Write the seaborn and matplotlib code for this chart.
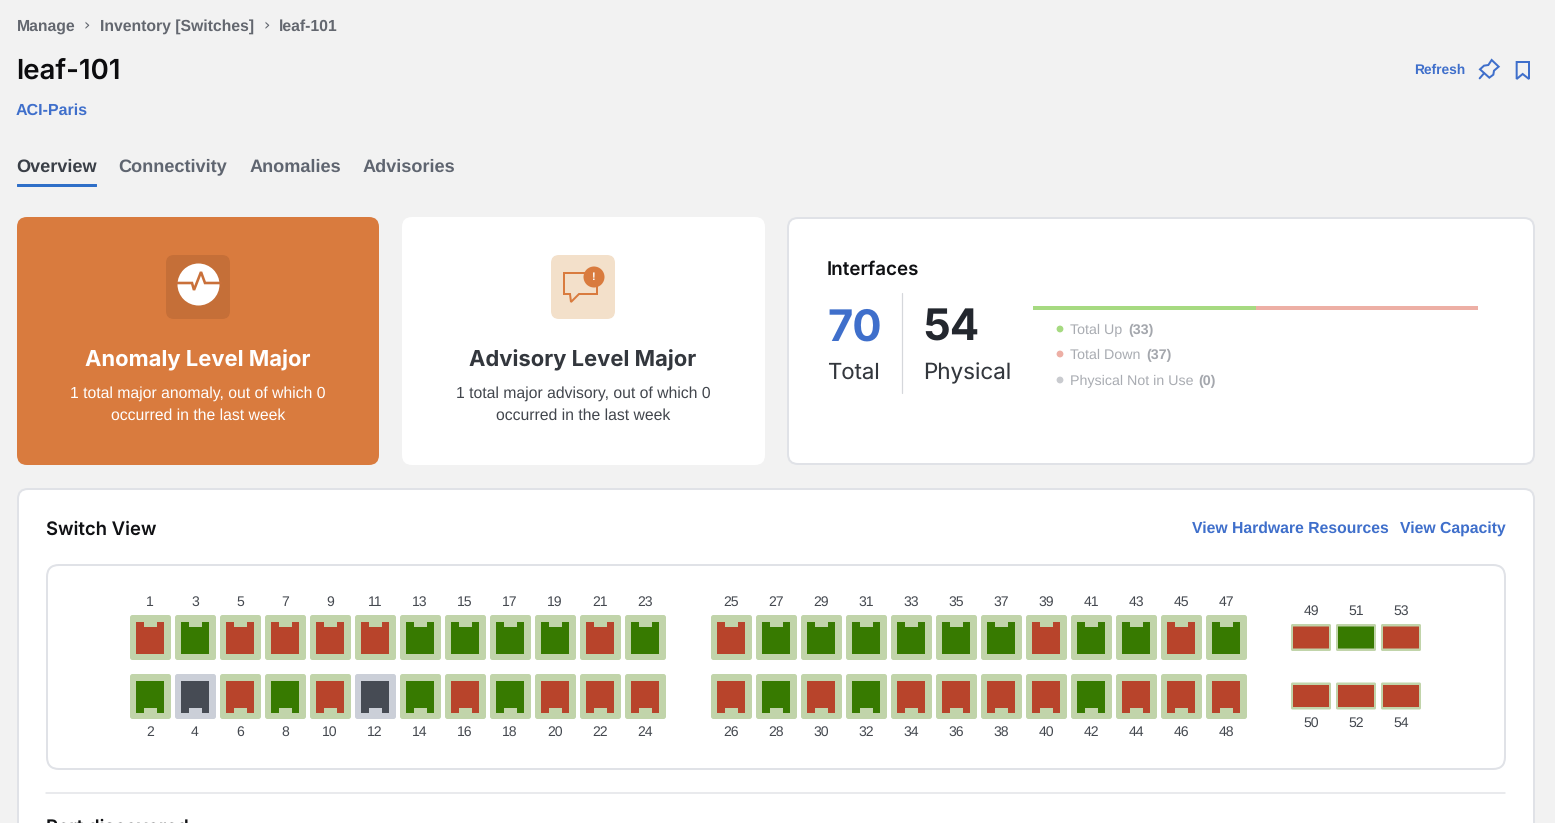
import matplotlib
matplotlib.use("Agg")

import matplotlib.pyplot as plt
import numpy as np
import pandas as pd
import seaborn as sns
from matplotlib.patches import Circle, FancyBboxPatch, Polygon
from matplotlib.path import Path

W, H = 1555, 823
PX = 0.72  # one pixel in points at dpi 100

BG = "#f2f2f2"
BLUE = "#3f6fcb"
ORANGE = "#d97b3e"
BORDER = "#e0e2e7"
STATUS_COLORS = {"up": "#377a00", "down": "#b8442b", "unused": "#464b54"}
FRAME_COLORS = {"up": "#c1d4aa", "down": "#c1d4aa", "unused": "#cbcfd8"}

U, D, N = "up", "down", "unused"

# ports, left block then middle block then uplinks
block1_odd = [D, U, D, D, D, D, U, U, U, U, D, U]
block1_even = [U, N, D, U, D, N, U, D, U, D, D, D]
block2_odd = [D, U, U, U, U, U, U, D, U, U, D, U]
block2_even = [D, U, D, U, D, D, D, D, U, D, D, D]
uplink_odd = [D, U, D]
uplink_even = [D, D, D]

interface_total = 70
interface_physical = 54
legend_labels = ["Total Up", "Total Down", "Physical Not in Use"]
legend_counts = [33, 37, 0]
legend_colors = ["#a6da81", "#edafa5", "#c9cbcf"]
legend_count_x = [1128, 1146, 1198]
bar_labels = ["up", "down"]
bar_share = [50, 50]

sns.set_theme(style="white")
plt.rcParams["font.family"] = ["Liberation Sans", "DejaVu Sans"]
plt.rcParams["text.hinting"] = "no_hinting"


def txt(ax, x, y, s, px, color="#42464d", weight="normal", ha="left", family=None):
    return ax.text(x, y, s, fontsize=px * PX, color=color, fontweight=weight, ha=ha, va="center_baseline",
                   family=family or plt.rcParams["font.family"])


def box(ax, x0, y0, x1, y1, r, face, edge="none", lw=0.0, z=1):
    ax.add_patch(FancyBboxPatch((x0 + r, y0 + r), x1 - x0 - 2 * r, y1 - y0 - 2 * r,
                                boxstyle=f"round,pad={r},rounding_size={r}",
                                fc=face, ec=edge, lw=lw * PX, zorder=z))


def build_ports(values, first, x0, y, row):
    rows = []
    for i, status in enumerate(values):
        rows.append({"port": first + 2 * i, "status": status, "x": x0 + 45 * i, "y": y, "row": row})
    return rows


fig = plt.figure(figsize=(W / 100, H / 100), dpi=100, facecolor=BG)
ax = fig.add_axes([0, 0, 1, 1])
ax.set_xlim(0, W)
ax.set_ylim(H, 0)
ax.axis("off")

# header
for x, s in zip([17, 100, 279], ["Manage", "Inventory [Switches]", "leaf-101"]):
    txt(ax, x, 25, s, 15.7, "#63676f", "bold")
for x in [87, 267]:
    txt(ax, x, 24, "›", 16, "#63676f", ha="center", family="DejaVu Sans")
txt(ax, 16.5, 69, "leaf-101", 27.6, "#0c0c0e", "semibold", family="Inter")
txt(ax, 16, 109, "ACI-Paris", 16, BLUE, "bold")
txt(ax, 1414, 68.5, "Refresh", 13.8, BLUE, "bold")

pin = np.array([(275, 30), (296, 50), (282, 62), (280, 74), (268, 83), (240, 58), (252, 47), (265, 45)])
ax.add_patch(Polygon(pin / 3 + (1400, 50), closed=True, fc="none", ec=BLUE, lw=2 * PX))
needle = np.array([(252, 70), (239, 85)]) / 3 + (1400, 50)
ax.plot(needle[:, 0], needle[:, 1], color=BLUE, lw=2 * PX)
bookmark = np.array([(350, 36), (387, 36), (387, 87), (368, 72), (350, 87)])
ax.add_patch(Polygon(bookmark / 3 + (1400, 50), closed=True, fc="none", ec=BLUE, lw=2 * PX))

# tabs, Connectivity has a descender so it sits a bit higher to share the baseline
tab_x = [16.5, 118.5, 249.5, 363]
tab_y = [165.5, 164.5, 165.5, 165.5]
tab_names = ["Overview", "Connectivity", "Anomalies", "Advisories"]
for i, (x, y, s) in enumerate(zip(tab_x, tab_y, tab_names)):
    txt(ax, x, y, s, 18.1, "#3a3f47" if i == 0 else "#5f6570", "bold")
box(ax, 17, 184, 97, 187, 0.5, "#2f6fc8", z=2)

# cards
box(ax, 17, 217, 379, 465, 10, ORANGE)
box(ax, 402, 217, 765, 465, 10, "white")
box(ax, 788, 218, 1534, 464, 10, "white", BORDER, 2)
box(ax, 18, 489, 1534, 880, 10, "white", BORDER, 2)
box(ax, 47, 565, 1505, 769, 12, "white", BORDER, 2)
ax.plot([46, 1505], [793, 793], color="#e2e4e8", lw=1.5 * PX)

# anomaly card
box(ax, 166, 255, 230, 319, 8, "#c56f38", z=2)
ax.add_patch(Circle((198.5, 284.5), 21, fc="white", ec="none", zorder=3))
pulse = np.array([(177, 283), (192, 283), (194, 290), (201, 272), (205, 283), (221, 283)])
ax.plot(pulse[:, 0], pulse[:, 1], color="#c9703a", lw=2.6 * PX, zorder=4, solid_joinstyle="miter")
txt(ax, 198, 357.5, "Anomaly Level Major", 22, "white", "bold", ha="center", family="Inter")
txt(ax, 198, 392, "1 total major anomaly, out of which 0", 15.7, "white", ha="center")
txt(ax, 198, 414, "occurred in the last week", 15.7, "white", ha="center")

# advisory card
box(ax, 551, 255, 615, 319, 8, "#f3e0ca", z=2)
bubble = np.array([(564, 273), (597, 273), (597, 294), (579, 294), (571, 302), (570, 294), (564, 294)])
ax.add_patch(Polygon(bubble, closed=True, fc="none", ec=ORANGE, lw=2 * PX, zorder=3))
ax.add_patch(Circle((594, 277), 10.5, fc=ORANGE, ec="none", zorder=4))
ax.text(594, 277, "!", color="white", fontsize=11 * PX, fontweight="bold", ha="center", va="center", zorder=5)
txt(ax, 583, 357.5, "Advisory Level Major", 22, "#33373d", "bold", ha="center", family="Inter")
txt(ax, 583, 392, "1 total major advisory, out of which 0", 15.7, ha="center")
txt(ax, 583, 414, "occurred in the last week", 15.7, ha="center")

# interfaces card
txt(ax, 827, 268, "Interfaces", 18.8, "#101114", "semibold", family="Inter")
txt(ax, 827, 325, str(interface_total), 43.5, BLUE, "bold", family="Inter")
txt(ax, 827.5, 371, "Total", 22.2, "#33373d", family="Inter")
ax.plot([902, 902], [293, 393], color="#d5d7db", lw=1.2 * PX)
txt(ax, 922.5, 325, str(interface_physical), 43.5, "#23272e", "bold", family="Inter")
txt(ax, 923, 371, "Physical", 22.4, "#33373d", family="Inter")

bar_ax = fig.add_axes([1033 / W, 1 - 310 / H, 445 / W, 4 / H])
stack = np.cumsum(bar_share)
bar_colors = [legend_colors[0], legend_colors[1]]
for label, value, color in reversed(list(zip(bar_labels, stack, bar_colors))):
    sns.barplot(x=[value], y=["interfaces"], color=color, width=1.0, saturation=1, linewidth=0, ax=bar_ax)
bar_ax.set_xlim(0, stack[-1])
bar_ax.set_ylim(0.5, -0.5)
bar_ax.axis("off")

for y, label, count, color, cx in zip([329, 354, 380], legend_labels, legend_counts, legend_colors, legend_count_x):
    ax.add_patch(Circle((1060, y), 3.4, fc=color, ec="none", zorder=3))
    txt(ax, 1070, y, label, 14.3, "#a9acb2")
    txt(ax, cx, y, f"({count})", 14.3, "#a4a7ad", "bold")

# switch view
txt(ax, 45.5, 528, "Switch View", 18.5, "#101114", "semibold", family="Inter")
txt(ax, 1192, 527, "View Hardware Resources", 15.8, BLUE, "bold")
txt(ax, 1400, 527, "View Capacity", 15.8, BLUE, "bold")
txt(ax, 46, 826, "Port discovered", 18.6, "#101114", "semibold", family="Inter")

# copper ports, x and y are block centre positions in pixels
ports = pd.DataFrame(
    build_ports(block1_odd, 1, 150.5, 637.5, "top")
    + build_ports(block1_even, 2, 150.5, 696.5, "bottom")
    + build_ports(block2_odd, 25, 731.5, 637.5, "top")
    + build_ports(block2_even, 26, 731.5, 696.5, "bottom")
)
for p in ports.itertuples():
    box(ax, p.x - 20.5, p.y - 22.5, p.x + 20.5, p.y + 22.5, 2.5, FRAME_COLORS[p.status], z=2)
    label_y = 601 if p.row == "top" else 731
    txt(ax, p.x - 0.5, label_y, str(p.port), 14, "#44484f", ha="center")

w, h, nw, nd = 14, 16, 6.5, 5
notch_top = Path([(-w, -h), (-nw, -h), (-nw, -h + nd), (nw, -h + nd), (nw, -h), (w, -h), (w, h), (-w, h), (-w, -h)], closed=True)
notch_bottom = Path([(-w, h), (-nw, h), (-nw, h - nd), (nw, h - nd), (nw, h), (w, h), (w, -h), (-w, -h), (-w, h)], closed=True)
# markers are y-up, the axes run y-down, so the top row takes the flipped shape
sns.scatterplot(data=ports.assign(x=ports["x"] - 0.5), x="x", y="y", hue="status", style="row", palette=STATUS_COLORS,
                markers={"top": notch_bottom, "bottom": notch_top}, s=(2 * h * PX) ** 2, linewidth=0,
                legend=False, zorder=3, ax=ax)

# uplink ports
uplinks = pd.DataFrame(
    build_ports(uplink_odd, 49, 1311, 637.5, "top") + build_ports(uplink_even, 50, 1311, 696, "bottom")
)
for p in uplinks.itertuples():
    box(ax, p.x - 20, p.y - 13.5, p.x + 20, p.y + 13.5, 1.5, FRAME_COLORS[p.status], z=2)
    label_y = 610 if p.row == "top" else 722
    txt(ax, p.x, label_y, str(p.port), 14, "#44484f", ha="center")
    box(ax, p.x - 18, p.y - 11, p.x + 18, p.y + 11, 0.2, STATUS_COLORS[p.status], z=3)

ax.set_xlim(0, W)
ax.set_ylim(H, 0)
ax.set_xlabel("")
ax.set_ylabel("")

fig.savefig("out.png", dpi=100, facecolor=BG)
